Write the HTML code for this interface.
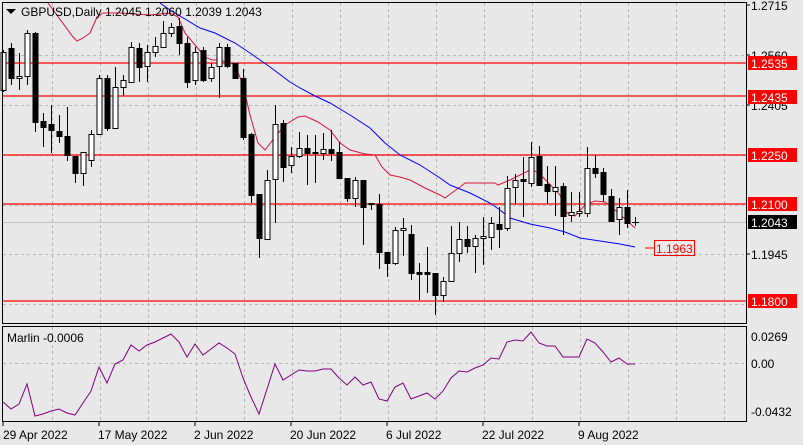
<!DOCTYPE html>
<html><head><meta charset="utf-8"><style>
body{margin:0;background:#e8e8e8;}
svg{display:block;font-family:"Liberation Sans",sans-serif;font-size:12px;}
</style></head><body>
<svg id="s" width="803" height="445" xmlns="http://www.w3.org/2000/svg">
<rect width="803" height="445" fill="#e8e8e8"/>
<g id="grid" stroke="#b8b8b8" stroke-dasharray="3,3" stroke-width="1"></g>
<line x1="3" y1="222.5" x2="746" y2="222.5" stroke="#c0c0c0"/>
<g stroke="#ff0000" stroke-width="1.3">
<line x1="3" y1="63" x2="746" y2="63"/>
<line x1="3" y1="96" x2="746" y2="96"/>
<line x1="3" y1="155" x2="746" y2="155"/>
<line x1="3" y1="204" x2="746" y2="204"/>
<line x1="3" y1="301" x2="746" y2="301"/>
</g>
<polyline id="red" fill="none" stroke="#dc143c" stroke-width="1"/>
<polyline id="blue" fill="none" stroke="#0000ff" stroke-width="1"/>
<g id="candles"></g>
<polyline id="marlin" fill="none" stroke="#800080" stroke-width="1"/>
<rect x="2.5" y="2.5" width="744" height="321" fill="none" stroke="#000"/>
<rect x="2.5" y="326.5" width="744" height="95" fill="none" stroke="#000"/>
<path d="M6 9 L16 9 L11 14 Z" fill="#000"/>
<text x="21" y="16" fill="#000">GBPUSD,Daily  1.2045 1.2060 1.2039 1.2043</text>
<text x="7" y="342" fill="#000">Marlin -0.0006</text>
<g fill="#000">
<text x="751" y="10">1.2715</text>
<text x="751" y="60">1.2560</text>
<text x="751" y="110">1.2405</text>
<text x="751" y="259">1.1945</text>
<text x="751" y="341">0.0269</text>
<text x="751" y="368">0.00</text>
<text x="751" y="416">-0.0432</text>
</g>
<g stroke="#000"><line x1="746" y1="5" x2="750" y2="5"/><line x1="746" y1="55" x2="750" y2="55"/><line x1="746" y1="105" x2="750" y2="105"/><line x1="746" y1="254" x2="750" y2="254"/></g>
<rect x="748" y="56" width="49" height="14" fill="#ff0000"/><text x="751" y="68" fill="#fff">1.2535</text>
<rect x="748" y="90" width="49" height="14" fill="#ff0000"/><text x="751" y="102" fill="#fff">1.2435</text>
<rect x="748" y="148" width="49" height="14" fill="#ff0000"/><text x="751" y="160" fill="#fff">1.2250</text>
<rect x="748" y="197" width="49" height="14" fill="#ff0000"/><text x="751" y="209" fill="#fff">1.2100</text>
<rect x="748" y="215" width="49" height="14" fill="#000"/><text x="751" y="227" fill="#fff">1.2043</text>
<rect x="748" y="294" width="49" height="14" fill="#ff0000"/><text x="751" y="306" fill="#fff">1.1800</text>
<line x1="645" y1="248" x2="654" y2="248" stroke="#ff0000"/>
<rect x="654.5" y="240.5" width="40" height="15" fill="none" stroke="#ff0000"/>
<text x="656" y="253" fill="#ff0000">1.1963</text>
<g fill="#000">
<text x="3" y="439">29 Apr 2022</text>
<text x="98" y="439">17 May 2022</text>
<text x="194" y="439">2 Jun 2022</text>
<text x="290" y="439">20 Jun 2022</text>
<text x="386" y="439">6 Jul 2022</text>
<text x="482" y="439">22 Jul 2022</text>
<text x="578" y="439">9 Aug 2022</text>
</g>
<g stroke="#000"><line x1="3" y1="422" x2="3" y2="426"/><line x1="99" y1="422" x2="99" y2="426"/><line x1="195" y1="422" x2="195" y2="426"/><line x1="291" y1="422" x2="291" y2="426"/><line x1="387" y1="422" x2="387" y2="426"/><line x1="483" y1="422" x2="483" y2="426"/><line x1="579" y1="422" x2="579" y2="426"/></g>
</svg>
<script>
var NS="http://www.w3.org/2000/svg";
function el(t,a,p){var e=document.createElementNS(NS,t);for(var k in a)e.setAttribute(k,a[k]);p.appendChild(e);return e;}
var g=document.getElementById('grid');
for(var x=52;x<746;x+=48){el('line',{x1:x+.5,y1:3,x2:x+.5,y2:323},g);el('line',{x1:x+.5,y1:327,x2:x+.5,y2:421},g);}
[55,105,155,205,254,304].forEach(function(y){el('line',{x1:3,y1:y+.5,x2:746,y2:y+.5},g);});
el('line',{x1:3,y1:363.5,x2:746,y2:363.5},g);
var C=[[52,90,50,92,1],[48,78,43,85,0],[76,78,53,90,1],[33,76,30,85,1],[33,122,32,132,0],[121,127,113,147,0],[124,130,105,153,0],[131,136,115,143,0],[136,155,107,161,0],[156,173,156,183,0],
[152,173,152,186,1],[134,160,130,167,1],[78,134,75,135,1],[78,128,75,131,0],[87,128,67,128,1],[80,87,75,96,1],[47,82,42,83,1],[48,67,43,82,0],[52,66,45,82,1],[46,52,37,57,1],
[33,47,21,48,1],[27,33,23,37,1],[26,43,18,55,0],[43,82,37,88,0],[52,80,47,85,1],[50,80,47,82,0],[67,78,63,82,1],[47,66,43,98,1],[47,66,44,68,0],[63,78,63,79,0],
[78,137,69,140,0],[134,195,133,203,0],[194,238,194,258,0],[180,239,170,240,1],[124,179,105,223,1],[123,167,120,182,0],[156,165,147,173,1],[148,156,132,158,1],[148,153,135,185,0],[152,153,135,183,0],
[149,153,133,160,1],[149,153,130,161,0],[152,178,142,178,0],[178,198,178,202,0],[180,198,177,207,1],[180,207,180,245,0],[203,204,203,210,0],[204,252,194,269,0],[252,263,252,277,0],[230,263,227,265,1],
[228,230,218,256,1],[234,273,225,280,0],[272,274,263,300,0],[272,274,247,293,0],[273,295,273,315,0],[281,295,277,302,1],[253,281,226,282,1],[239,253,222,262,1],[239,246,226,253,0],[238,246,235,273,1],
[236,238,217,265,1],[223,237,217,250,1],[224,229,207,248,0],[188,228,176,231,1],[180,187,174,204,1],[179,181,157,217,0],[157,183,142,187,1],[156,185,146,186,0],[184,191,166,204,0],[187,191,166,216,1],
[186,216,183,235,0],[212,215,192,222,1],[211,213,192,217,1],[168,213,147,217,1],[168,173,155,178,0],[172,194,168,202,0],[196,221,189,222,0],[207,219,198,235,1],[207,223,190,228,0],[222,223,217,226,0]];
var cg=document.getElementById('candles');
C.forEach(function(c,i){var x=3+8*i;
 el('line',{x1:x+.5,y1:c[2],x2:x+.5,y2:c[3],stroke:'#000'},cg);
 if(i==79){el('line',{x1:x-3,y1:222.5,x2:x+4,y2:222.5,stroke:'#000'},cg);return;}
 var h=Math.max(1,c[1]-c[0]);
 el('rect',{x:x-2,y:c[0]+.5,width:5,height:h,fill:c[4]?'#fff':'#000',stroke:'#000'},cg);});
document.getElementById('red').setAttribute('points',"48,3 73,37 77,41 83,38 90,33 97,17 103,13 120,13 150,15 170,13 178,17 185,33 195,45 205,57 212,60 218,60 228,62 235,65 243,85 250,115 258,143 265,150 275,137 285,125 298,117 305,116 318,122 330,130 340,143 350,150 365,154 375,155 382,167 390,175 400,177 410,180 425,188 440,195 445,198 453,192 460,187 465,183 495,183 498,185 510,180 530,170 538,172 560,195 567,213 575,216 585,205 595,201 605,202 615,210 635,228");
document.getElementById('blue').setAttribute('points',"160,3 170,10 200,28 215,33 235,43 250,53 270,67 290,82 300,88 315,96 330,103 350,115 370,128 385,143 400,155 420,165 440,178 450,185 470,193 490,203 500,210 510,218 530,224 550,228 565,232 580,238 600,241 620,244 635,247");
var M=[402,409,404,384,416,414,411,409,413,415,403,391,367,383,364,360,345,351,345,342,338,334,342,357,344,355,349,343,348,354,378,397,414,389,364,380,375,370,371,371,369,369,378,385,377,385,382,399,401,387,383,399,396,393,399,391,378,371,372,368,365,358,359,342,340,341,332,343,346,346,357,357,357,339,343,352,362,358,364,364];
document.getElementById('marlin').setAttribute('points',M.map(function(y,i){return (3+8*i)+','+y;}).join(' '));
</script>
</body></html>
